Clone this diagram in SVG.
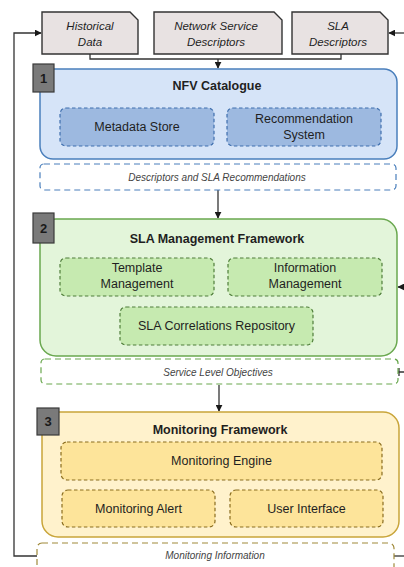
<svg xmlns="http://www.w3.org/2000/svg" width="404" height="567" viewBox="0 0 404 567">
<defs>
<marker id="ah" viewBox="0 0 10 10" refX="9" refY="5" markerWidth="7" markerHeight="7" markerUnits="userSpaceOnUse" orient="auto">
<path d="M0,0 L10,5 L0,10 Z" fill="#1a1a1a"/>
</marker>
<style>
text{font-family:"Liberation Sans",Arial,sans-serif;fill:#1f1f1f;text-anchor:middle;dominant-baseline:central}
.doc{fill:#e8e2e2;stroke:#333;stroke-width:1.4}
.doct{font-style:italic;font-size:11.5px}
.title{font-weight:bold;font-size:12.5px}
.sub{font-size:12.5px}
.lbl{font-style:italic;font-size:10px;fill:#444}
.num{fill:#7a7a7a;stroke:#3a3a3a;stroke-width:1.2}
.numt{font-weight:bold;font-size:13px;fill:#1a1a1a}
.conn{fill:none;stroke:#333;stroke-width:1.3}
.dash{stroke-dasharray:3.5 2.5;stroke-width:1.2}
.ldash{stroke-dasharray:6 4;stroke-width:1.2}
</style>
</defs>
<g id="connectors">
<path class="conn" d="M90,54 V59 H341 V54"/>
<path class="conn" d="M218,59 V68" marker-end="url(#ah)"/>
<path class="conn" d="M218,190 V218" marker-end="url(#ah)"/>
<path class="conn" d="M219,385 V411" marker-end="url(#ah)"/>
<path class="conn" d="M37,556 H14 V33 H41" stroke="#555" marker-end="url(#ah)"/>
<path class="conn" d="M404,33 H389" marker-end="url(#ah)"/>
<path class="conn" d="M404,287 H398" marker-end="url(#ah)"/>
<path class="conn" d="M398,372 H404 M399,368 V376"/>
<path class="conn" d="M394,556 H404" stroke="#777"/>
</g>
<g id="historical-data">
<path class="doc" d="M42,12 H130 L138,20 V54 H42 Z"/>
<text class="doct" x="90" y="26">Historical</text>
<text class="doct" x="90" y="42">Data</text>
</g>
<g id="network-service-descriptors">
<path class="doc" d="M154,12 H274 L282,20 V54 H154 Z"/>
<text class="doct" x="216" y="26">Network Service</text>
<text class="doct" x="216" y="42">Descriptors</text>
</g>
<g id="sla-descriptors">
<path class="doc" d="M292,12 H380 L388,20 V54 H292 Z"/>
<text class="doct" x="338" y="26">SLA</text>
<text class="doct" x="338" y="42">Descriptors</text>
</g>
<g id="nfv-catalogue">
<rect x="40" y="69" width="357" height="90" rx="13" fill="#d6e4f8" stroke="#4a7fbc" stroke-width="1.5"/>
<rect class="num" x="33" y="64" width="21" height="28"/>
<text class="numt" x="43.5" y="78">1</text>
<text class="title" x="217" y="86">NFV Catalogue</text>
</g>
<g id="metadata-store">
<rect x="60" y="108" width="154" height="38" rx="6" fill="#9db9e0" stroke="#3f6fae" class="dash"/>
<text class="sub" x="137" y="127">Metadata Store</text>
</g>
<g id="recommendation-system">
<rect x="227" y="108" width="154" height="38" rx="6" fill="#9db9e0" stroke="#3f6fae" class="dash"/>
<text class="sub" x="304" y="118.5">Recommendation</text>
<text class="sub" x="304" y="135">System</text>
</g>
<g id="descriptors-sla-recommendations">
<rect x="40" y="164" width="356" height="26" rx="4" fill="#fff" stroke="#4a7fbc" class="ldash"/>
<text class="lbl" x="217" y="177">Descriptors and SLA Recommendations</text>
</g>
<g id="sla-management-framework">
<rect x="40" y="219" width="357" height="137" rx="16" fill="#e3f5da" stroke="#6aa84f" stroke-width="1.5"/>
<rect class="num" x="33" y="213" width="21" height="30"/>
<text class="numt" x="43.5" y="228">2</text>
<text class="title" x="217" y="239">SLA Management Framework</text>
</g>
<g id="template-management">
<rect x="60" y="258" width="154" height="38" rx="6" fill="#c6eab0" stroke="#4f7d3a" class="dash"/>
<text class="sub" x="137" y="268">Template</text>
<text class="sub" x="137" y="284">Management</text>
</g>
<g id="information-management">
<rect x="228" y="258" width="154" height="38" rx="6" fill="#c6eab0" stroke="#4f7d3a" class="dash"/>
<text class="sub" x="305" y="268">Information</text>
<text class="sub" x="305" y="284">Management</text>
</g>
<g id="sla-correlations-repository">
<rect x="120" y="307" width="193" height="38" rx="6" fill="#c6eab0" stroke="#4f7d3a" class="dash"/>
<text class="sub" x="216.5" y="326">SLA Correlations Repository</text>
</g>
<g id="service-level-objectives">
<rect x="41" y="359" width="357" height="25" rx="4" fill="#fff" stroke="#6aa84f" class="ldash"/>
<text class="lbl" x="218" y="372">Service Level Objectives</text>
</g>
<g id="monitoring-framework">
<rect x="42" y="412" width="357" height="125" rx="16" fill="#fff2cc" stroke="#c9a53a" stroke-width="1.5"/>
<rect class="num" x="37" y="408" width="22" height="27"/>
<text class="numt" x="48" y="421">3</text>
<text class="title" x="220" y="430">Monitoring Framework</text>
</g>
<g id="monitoring-engine">
<rect x="61" y="442" width="321" height="38" rx="6" fill="#fde49a" stroke="#8a6d1f" class="dash"/>
<text class="sub" x="221.5" y="461">Monitoring Engine</text>
</g>
<g id="monitoring-alert">
<rect x="62" y="490" width="153" height="37" rx="6" fill="#fde49a" stroke="#8a6d1f" class="dash"/>
<text class="sub" x="138.5" y="508.5">Monitoring Alert</text>
</g>
<g id="user-interface">
<rect x="230" y="490" width="153" height="37" rx="6" fill="#fde49a" stroke="#8a6d1f" class="dash"/>
<text class="sub" x="306.5" y="508.5">User Interface</text>
</g>
<g id="monitoring-information">
<rect x="37" y="543" width="357" height="40" rx="5" fill="#fff" stroke="#a08a3a" class="ldash"/>
<text class="lbl" x="215" y="555.5">Monitoring Information</text>
</g>
</svg>
